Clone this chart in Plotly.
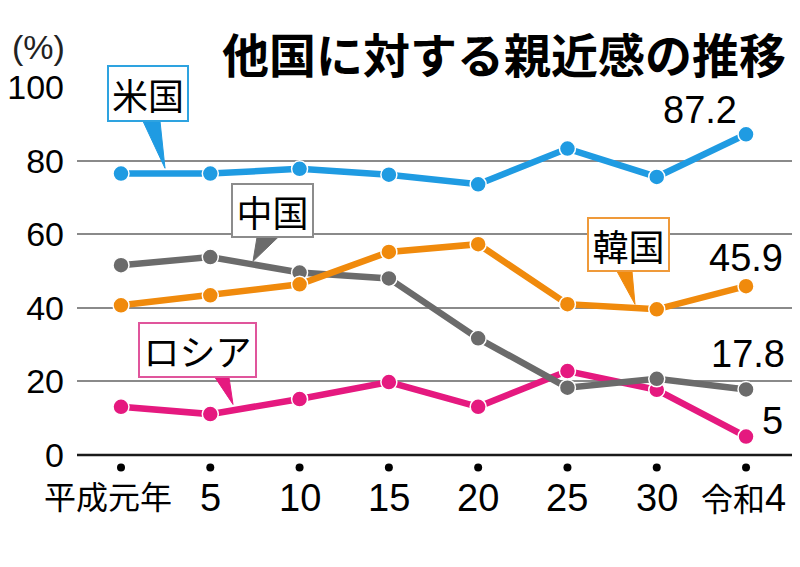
import plotly.graph_objects as go

# ---- data ----
categories = ["平成元年", "5", "10", "15", "20", "25", "30", "令和4"]
usa = [76.5, 76.5, 77.8, 76.2, 73.6, 83.3, 75.6, 87.2]
china = [51.6, 53.8, 49.6, 48.0, 31.7, 18.3, 20.7, 17.8]
korea = [40.7, 43.4, 46.4, 55.2, 57.3, 41.0, 39.6, 45.9]
russia = [13.1, 11.1, 15.2, 19.8, 13.1, 22.8, 17.7, 5.0]
y_ticks = [0, 20, 40, 60, 80, 100]

BLUE = "#1f9be2"
GRAY = "#6b6b6b"
ORANGE = "#f08a0c"
PINK = "#e5197f"

FONT = "Liberation Sans, Noto Sans CJK JP, sans-serif"
CJK = "Noto Sans CJK JP, sans-serif"

# page offset (body margin) and geometry in screenshot pixels
OFF = 8
W, H = 800 - OFF, 567 - OFF
X0PX, DX = 121.0, 89.29        # screen x of first category, spacing
Y0PX, DY = 454.5, 3.675        # screen y of value 0, px per unit
YMIN = -6.0                    # room for the category dots below the baseline
PL, PR = 77, 792               # plot area left/right (screen)
PT = Y0PX - 100 * DY           # screen y of value 100
PB = Y0PX - YMIN * DY          # screen y of plot bottom

def dx(px):
    return (px - X0PX) / DX

def dy(py):
    return (Y0PX - py) / DY

def px_paper(px):
    return (px - PL) / (PR - PL)

def py_paper(py):
    return (PB - py) / (PB - PT)

xs = list(range(len(categories)))
fig = go.Figure()

series = [("ロシア", russia, PINK), ("中国", china, GRAY),
          ("韓国", korea, ORANGE), ("米国", usa, BLUE)]
for name, vals, col in series:
    fig.add_trace(go.Scatter(
        x=xs, y=vals, mode="lines+markers", name=name,
        line=dict(color=col, width=6.5),
        marker=dict(color=col, size=16, line=dict(color="white", width=1.5)),
        showlegend=False, cliponaxis=False, hoverinfo="skip"))

# category dots below the axis
fig.add_trace(go.Scatter(
    x=xs, y=[dy(467)] * len(xs), mode="markers",
    marker=dict(color="black", size=8), showlegend=False,
    cliponaxis=False, hoverinfo="skip"))

annotations = []
shapes = []

# baseline
shapes.append(dict(type="line", xref="paper", x0=0, x1=1, yref="y", y0=0, y1=0,
                   line=dict(color="#1a1a1a", width=2.5), layer="above"))

# x labels
for i, lab in enumerate(categories):
    txt = lab
    shift = 0
    size = 38
    if i == 0:
        shift = -13
        size = 32
    if lab == "令和4":
        txt = "令和<span style='font-size:38px'>4</span>"
        size = 32
        shift = -3
    annotations.append(dict(x=i, xref="x", y=py_paper(498), yref="paper",
                            text=txt, showarrow=False, xshift=shift,
                            xanchor="center", yanchor="middle",
                            font=dict(family=FONT, size=size, color="black")))

# value labels at the last point
last = len(xs) - 1
for val, txt, xs_, ys_ in [(usa[last], "87.2", -46, 24), (korea[last], "45.9", 0, 28),
                           (china[last], "17.8", 2, 35), (russia[last], "5", 26, 16)]:
    annotations.append(dict(x=last, y=val, xref="x", yref="y", text=txt,
                            showarrow=False, xshift=xs_, yshift=ys_,
                            font=dict(family=FONT, size=38, color="black")))

# callout boxes
boxes = [
    ("米国", 107, 189, 65, 122, BLUE, "#2ea3e0", [(143, 121), (160, 121), (165, 168)]),
    ("中国", 231, 314, 183, 238, GRAY, "#8c8c8c", [(257, 237), (278, 237), (253, 261)]),
    ("韓国", 587, 670, 217, 272, ORANGE, "#ef9a3a", [(617, 271), (632, 271), (635, 304)]),
    ("ロシア", 138, 257, 322, 378, PINK, "#e0559c", [(215, 377), (229, 377), (233, 404)]),
]
for name, x0, x1, y0, y1, col, bcol, tri in boxes:
    path = "M {} {} L {} {} L {} {} Z".format(
        dx(tri[0][0]), dy(tri[0][1]), dx(tri[1][0]), dy(tri[1][1]),
        dx(tri[2][0]), dy(tri[2][1]))
    shapes.append(dict(type="path", xref="x", yref="y", path=path,
                       fillcolor=col, line=dict(color=col, width=1), layer="above"))
    annotations.append(dict(x=dx((x0 + x1) / 2), y=dy((y0 + y1) / 2), xref="x", yref="y",
                            text=name, showarrow=False, width=x1 - x0 - 4,
                            height=y1 - y0 - 4, borderpad=0, bgcolor="white",
                            bordercolor=bcol, borderwidth=2, align="center",
                            valign="middle",
                            font=dict(family=CJK, size=36, color="black")))

# title and unit
annotations.append(dict(x=px_paper(788), y=py_paper(53), xref="paper", yref="paper",
                        text="<b>他国に対する親近感の推移</b>", showarrow=False,
                        xanchor="right", yanchor="middle",
                        font=dict(family=CJK, size=47, color="black")))
annotations.append(dict(x=px_paper(38), y=py_paper(47), xref="paper", yref="paper",
                        text="(%)", showarrow=False, xanchor="center", yanchor="middle",
                        font=dict(family=FONT, size=34, color="#222")))

fig.update_layout(
    width=W, height=H,
    margin=dict(l=PL - OFF, r=W - (PR - OFF), t=PT - OFF, b=H - (PB - OFF), pad=0,
                autoexpand=False),
    paper_bgcolor="white", plot_bgcolor="white",
    annotations=annotations, shapes=shapes,
    xaxis=dict(range=[dx(PL), dx(PR)], showgrid=False, zeroline=False, automargin=False,
               showticklabels=False, ticks="", showline=False, fixedrange=True),
    yaxis=dict(range=[YMIN, 100.05], tickvals=y_ticks, ticktext=[str(v) for v in y_ticks],
               showgrid=True, gridcolor="#8a8a8a", gridwidth=1.6, zeroline=False,
               automargin=False, showline=False, ticks="", ticklabelstandoff=12,
               tickfont=dict(family=FONT, size=34, color="black"), fixedrange=True),
)

fig.write_html("out.html")
